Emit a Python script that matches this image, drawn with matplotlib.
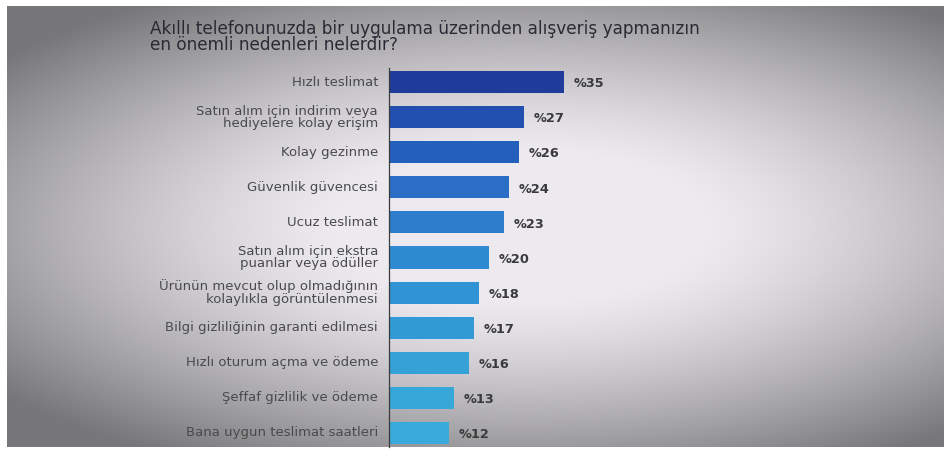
import numpy as np
import matplotlib
matplotlib.use("Agg")
import matplotlib.pyplot as plt

# Veriler
labels = [
    "Hızlı teslimat",
    "Satın alım için indirim veya\nhediyelere kolay erişim",
    "Kolay gezinme",
    "Güvenlik güvencesi",
    "Ucuz teslimat",
    "Satın alım için ekstra\npuanlar veya ödüller",
    "Ürünün mevcut olup olmadığının\nkolaylıkla görüntülenmesi",
    "Bilgi gizliliğinin garanti edilmesi",
    "Hızlı oturum açma ve ödeme",
    "Şeffaf gizlilik ve ödeme",
    "Bana uygun teslimat saatleri",
]
values = [35, 27, 26, 24, 23, 20, 18, 17, 16, 13, 12]
bar_colors = ["#1f3c9a", "#2150b0", "#245fbd", "#2a6ec6", "#2c7ecd",
              "#2e8bd2", "#3093d4", "#329bd6", "#34a1d7", "#37a6d8", "#39aad9"]
title = ("Akıllı telefonunuzda bir uygulama üzerinden alışveriş yapmanızın\n"
         "en önemli nedenleri nelerdir?")

W, H = 948, 453
fig = plt.figure(figsize=(W / 100, H / 100), dpi=100, facecolor="white")

# Ekran fotoğrafı arka planı (vinyet)
bg = fig.add_axes([7 / W, 6 / H, 937 / W, 441 / H])
gx, gy = np.meshgrid(np.linspace(-1, 1, 300), np.linspace(-1, 1, 150))
r = np.sqrt(((gx - 0.1) / 1.1) ** 2 + (gy / 0.95) ** 2)
shade = np.clip(0.93 - 0.5 * np.clip(r - 0.35, 0, None) ** 1.3, 0.47, 0.93)
tint = np.array([1.0, 0.99, 1.01])
rgb = np.clip(shade[..., None] * tint, 0, 1)
bg.imshow(rgb, aspect="auto", extent=[0, 1, 0, 1], interpolation="bilinear")
bg.set_axis_off()

# Grafik
ax = fig.add_axes([389 / W, 6 / H, 200 / W, (447 - 68) / H])
ax.patch.set_alpha(0)
y = np.arange(len(values))
ax.barh(y, values, height=0.63, color=bar_colors, zorder=2)
ax.set_ylim(10.4, -0.4)
ax.set_xlim(0, 40)

for yi, v in zip(y, values):
    ax.text(v + 1.9, yi + 0.05, f"%{v}", va="center", ha="left",
            fontsize=9.3, fontweight="bold", color="#3a3a3a",
            family="DejaVu Sans", clip_on=False)

for yi, lab in zip(y, labels):
    ax.text(-2.2, yi, lab, va="center", ha="right", fontsize=9.5,
            color="#4a4a4a", family="DejaVu Sans", linespacing=0.92,
            clip_on=False)

for s in ["top", "right", "bottom"]:
    ax.spines[s].set_visible(False)
ax.spines["left"].set_color("#3a3a3a")
ax.spines["left"].set_linewidth(0.9)
ax.set_xticks([])
ax.set_yticks([])

fig.text(150 / W, 1 - 37 / H, title, ha="left", va="center", fontsize=12.2,
         color="#2a2a35", family="DejaVu Sans", linespacing=0.85)

fig.savefig("out.png", dpi=100, facecolor="white")
